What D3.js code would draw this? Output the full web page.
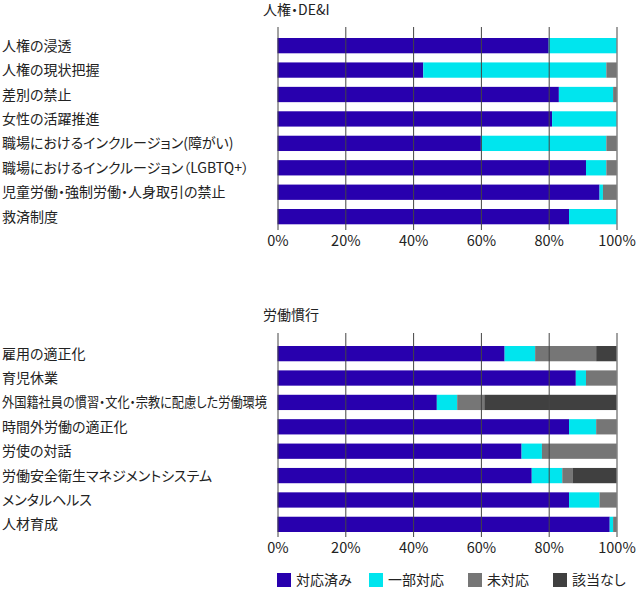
<!DOCTYPE html>
<html><head><meta charset="utf-8">
<script src="https://cdn.jsdelivr.net/npm/d3@7"></script>
<style>body{margin:0;background:#fff;}svg{display:block;font-family:"Noto Sans CJK JP","Noto Sans",sans-serif;font-feature-settings:"palt";}</style>
</head><body><svg id="c" width="640" height="594"></svg>
<script>
const seriesNames = ["対応済み","一部対応","未対応","該当なし"];
const seriesColors = ["#2800ae","#00e5ee","#767676","#404040"];
const ticks = [0,20,40,60,80,100];

const title1 = "人権・DE&I";
const categories1 = ["人権の浸透","人権の現状把握","差別の禁止","女性の活躍推進","職場におけるインクルージョン(障がい)","職場におけるインクルージョン（LGBTQ+）","児童労働・強制労働・人身取引の禁止","救済制度"];
const done1    = [80,43,83,81,60,91,95,86];
const partial1 = [20,54,16,19,37, 6, 1,14];
const none1    = [ 0, 3, 1, 0, 3, 3, 4, 0];
const na1      = [ 0, 0, 0, 0, 0, 0, 0, 0];

const title2 = "労働慣行";
const categories2 = ["雇用の適正化","育児休業","外国籍社員の慣習・文化・宗教に配慮した労働環境","時間外労働の適正化","労使の対話","労働安全衛生マネジメントシステム","メンタルヘルス","人材育成"];
const done2    = [67,88,47,86,72,75,86,98];
const partial2 = [ 9, 3, 6, 8, 6, 9, 9, 1];
const none2    = [18, 9, 8, 6,22, 3, 5, 1];
const na2      = [ 6, 0,39, 0, 0,13, 0, 0];

const svg = d3.select("#c");
const x = d3.scaleLinear().domain([0,100]).range([277.5,616.5]);

function panel(title, cats, vals, gTop, gBot, barTop, barBot, titleY){
  const rows = cats.map((c,i)=>({c, v: vals.map(a=>a[i])}));
  const y = d3.scaleBand().domain(cats).range([barTop, barBot]).paddingInner(0.374).paddingOuter(0);
  const g = svg.append("g");
  g.append("text").attr("x",263).attr("y",titleY).attr("dy","0.36em").attr("font-size",14).attr("fill","#222").text(title);
  const stack = d3.stack().keys([0,1,2,3]).value((d,k)=>d.v[k])(rows);
  stack.forEach((s,k)=>{
    g.append("g").selectAll("rect").data(s).join("rect")
      .attr("x",d=>x(d[0])).attr("width",d=>Math.max(0,x(d[1])-x(d[0])))
      .attr("y",d=>y(d.data.c)).attr("height",y.bandwidth())
      .attr("fill",seriesColors[k]);
  });
  const axis = d3.axisBottom(x).tickValues(ticks).tickFormat(d=>d+"%").tickSize(gBot-gTop).tickPadding(6);
  const ag = g.append("g").attr("transform",`translate(0,${gTop})`).call(axis);
  ag.select(".domain").remove();
  ag.selectAll(".tick line").attr("stroke","#444").attr("stroke-width",1);
  ag.selectAll(".tick text").attr("font-size",14.5).attr("fill","#222").attr("font-family",'"Noto Sans CJK JP",sans-serif');
  g.append("g").selectAll("text").data(cats).join("text")
    .attr("x",2).attr("y",d=>y(d)+y.bandwidth()/2).attr("dy","0.36em")
    .attr("font-size",14).attr("fill","#222").text(d=>d)
    .each(function(){
      const w = this.getComputedTextLength();
      if (w > 265) d3.select(this).attr("textLength",265).attr("lengthAdjust","spacingAndGlyphs");
    });
}

panel(title1, categories1, [done1,partial1,none1,na1], 27, 230, 38, 224.3, 9.5);
panel(title2, categories2, [done2,partial2,none2,na2], 333, 537, 346, 532, 315);

const lx = [277,369,468,553];
const lg = svg.append("g");
seriesNames.forEach((n,i)=>{
  lg.append("rect").attr("x",lx[i]).attr("y",573).attr("width",14).attr("height",14).attr("fill",seriesColors[i]);
  lg.append("text").attr("x",lx[i]+19).attr("y",580).attr("dy","0.36em").attr("font-size",14).attr("fill","#222").text(n);
});
</script></body></html>
